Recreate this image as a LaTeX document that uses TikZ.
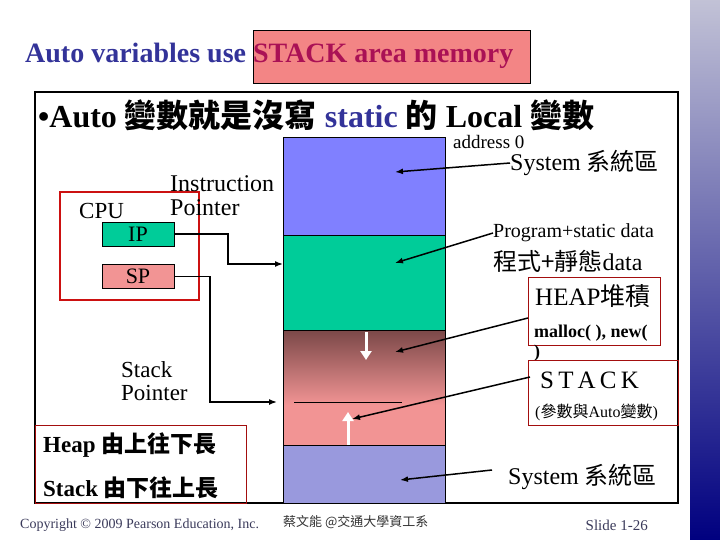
\documentclass[tikz,border=0pt]{standalone}
\usepackage{fontspec}
\setmainfont{Liberation Serif}
\newfontfamily\cjk{Noto Sans CJK TC}
\usetikzlibrary{arrows.meta,positioning}
\definecolor{titleblue}{HTML}{333399}
\definecolor{titlered}{HTML}{AA1155}
\definecolor{sysblue}{HTML}{8080FF}
\definecolor{progreen}{HTML}{00CC99}
\definecolor{heaptop}{HTML}{7A4848}
\definecolor{stackpink}{HTML}{F29494}
\definecolor{sysbottom}{HTML}{9999DD}
\definecolor{cpured}{HTML}{CC1111}
\definecolor{footgray}{HTML}{3A3A5A}
\newcommand{\fs}[1]{\fontsize{#1}{#1}\selectfont}
\tikzset{
	reg/.style={rectangle, draw, minimum width=72pt, minimum height=24pt, inner sep=0pt, font=\fs{22}},
	txt/.style={anchor=west, inner sep=0pt, align=left},
	redbox/.style={draw=cpured!80!black, thin},
	arrow/.style={draw, line width=1.5pt, -{Latex[length=8pt,width=6pt]}},
	growarrow/.style={draw=white, line width=3pt, -{Triangle[length=9pt,width=11pt]}}
}

\begin{document}
\begin{tikzpicture}[x=1pt, y=-1pt]
\useasboundingbox (0,0) rectangle (720,540);

% decorative strip
\shade[top color=blue!20!gray!40, bottom color=blue!50!black] (690,0) rectangle (720,540);

% title
\fill[stackpink!90!red, draw=black, thin] (253,30) rectangle (530,83);
\node[txt, font=\bfseries\fs{28}, text=titleblue] (title) at (25,56)
	{Auto variables use \textcolor{titlered}{STACK area memory}};

% frame
\draw[line width=1.5pt] (35,92) rectangle (678,503);
\node[txt, font=\bfseries\fs{32}] (bullet) at (38,115)
	{\textbullet Auto {\cjk 變數就是沒寫} \textcolor{titleblue}{static} {\cjk 的} Local {\cjk 變數}};

% memory bands
\fill[sysblue] (283,137) rectangle (445,235);
\fill[progreen] (283,235) rectangle (445,330);
\shade[top color=heaptop, bottom color=stackpink] (283,330) rectangle (445,405);
\fill[stackpink] (283,405) rectangle (445,445);
\fill[sysbottom] (283,445) rectangle (445,503);
\draw (283,137) rectangle (445,503);
\foreach \y in {235,330,445} \draw (283,\y) -- (445,\y);
\draw (294,402) -- (402,402);

\coordinate (sysmem) at (395,172);
\coordinate (progmem) at (395,263);
\coordinate (heapmem) at (395,352);
\coordinate (stackmem) at (352,419);
\coordinate (sysmem2) at (400,480);
\coordinate (iptarget) at (283,264);
\coordinate (sptarget) at (277,402);

% growth arrows
\draw[growarrow] (366,332) -- (366,360);
\draw[growarrow] (348,445) -- (348,412);

% CPU
\draw[cpured, line width=2.5pt] (60,192) rectangle (199,300);
\node[txt, font=\fs{23}] (cpu) at (79,211) {CPU};
\node[reg, fill=progreen] (ip) at (138,234) {IP};
\node[reg, fill=stackpink, below=18pt of ip] (sp) {SP};
\node[txt, font=\fs{24}, align=left] (instr) at (170,196)
	{Instruction\\Pointer};
\node[txt, font=\fs{23}, align=left] (stackptr) at (121,381)
	{Stack\\Pointer};
\draw[arrow] (ip.east) -- ++(54,0) |- (iptarget);
\draw[arrow] (sp.east) -- ++(36,0) |- (sptarget);

% right labels
\node[txt, font=\fs{19}] (addr) at (453,142) {address 0};
\node[txt, font=\fs{24}] (sys) at (510,163) {System {\cjk 系統區}};
\draw[arrow] (sys.west) -- (sysmem);
\node[txt, font=\fs{20}] (prog) at (493,233) {Program+static data};
\node[txt, font=\fs{24}] (progzh) at (493,261) {{\cjk 程式+靜態}data};
\draw[arrow] (prog.west) -- (progmem);

\draw[redbox] (528,277) rectangle (660,345);
\node[txt, font=\fs{25}] (heap) at (535,296) {HEAP{\cjk 堆積}};
\node[txt, font=\bfseries\fs{18}] (malloc) at (534,333) {malloc( ), new(};
\node[txt, font=\bfseries\fs{18}] (paren) at (534,353) {)};
\coordinate (heapbox) at (528,318);
\draw[arrow] (heapbox) -- (heapmem);

\draw[redbox] (528,360) rectangle (678,425);
\node[txt, font=\fs{25}] (stack) at (540,380) {S\,T\,A\,C\,K};
\node[txt, font=\fs{16}] (params) at (535,412) {({\cjk 參數與}Auto{\cjk 變數})};
\coordinate (stackbox) at (530,377);
\draw[arrow] (stackbox) -- (stackmem);

\node[txt, font=\fs{24}] (sys2) at (508,477) {System {\cjk 系統區}};
\coordinate (sys2start) at (492,470);
\draw[arrow] (sys2start) -- (sysmem2);

% growth note
\draw[redbox] (35,425) rectangle (246,503);
\node[txt, font=\bfseries\fs{23}] (heapgrow) at (43,445) {Heap {\cjk 由上往下長}};
\node[txt, font=\bfseries\fs{23}] (stackgrow) at (43,488) {Stack {\cjk 由下往上長}};

% footer
\node[txt, font=\fs{14}, text=footgray] (copy) at (20,525)
	{Copyright \textcopyright\ 2009 Pearson Education, Inc.};
\node[txt, font=\cjk\fs{13}, text=black!80] (author) at (283,522)
	{蔡文能 @交通大學資工系};
\node[anchor=east, inner sep=0pt, font=\fs{15}, text=footgray] (slide) at (648,525)
	{Slide 1-26};
\end{tikzpicture}
\end{document}
